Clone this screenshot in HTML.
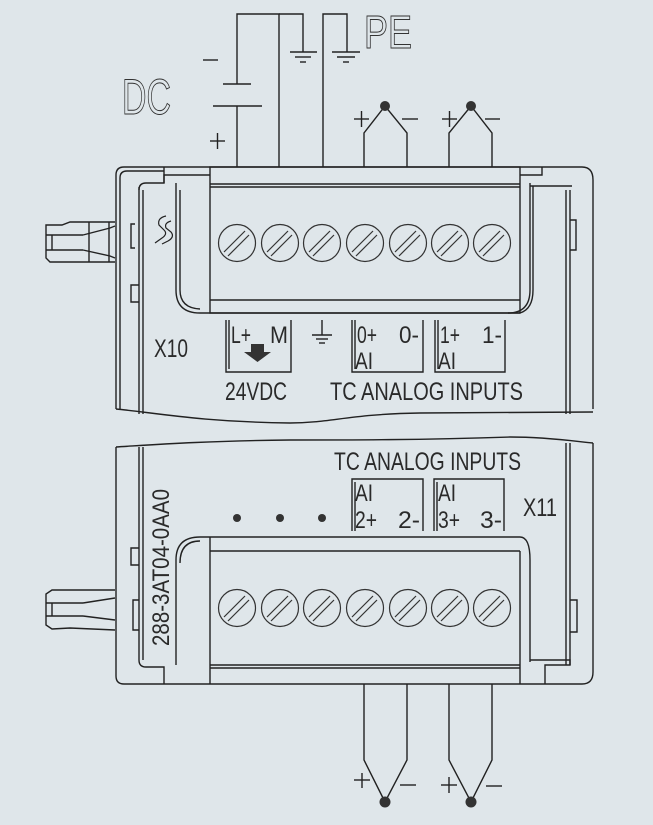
<!DOCTYPE html>
<html><head><meta charset="utf-8"><style>
html,body{margin:0;padding:0;background:#dfe6ea;}
svg{display:block}
text{font-family:"Liberation Sans",sans-serif;fill:#2a2a2a}
</style></head><body>
<svg width="653" height="825" viewBox="0 0 653 825" xmlns="http://www.w3.org/2000/svg">
<rect width="653" height="825" fill="#dfe6ea"/>
<g stroke="#222" stroke-width="1.4" fill="none">
<polyline points="237,84 237,14 279,14 279,167"/>
<polyline points="279,14 303,14 303,52"/>
<polyline points="323,167 323,14 347,14 347,52"/>
<line x1="290" y1="52" x2="317" y2="52"/><line x1="295" y1="57" x2="311" y2="57"/><line x1="300" y1="62" x2="306" y2="62"/>
<line x1="332" y1="52" x2="360" y2="52"/><line x1="337" y1="57" x2="355" y2="57"/><line x1="343" y1="62" x2="349" y2="62"/>
<line x1="223" y1="84" x2="251" y2="84"/><line x1="213" y1="106" x2="262" y2="106"/>
<line x1="237" y1="106" x2="237" y2="167"/>
<line x1="203" y1="60" x2="218" y2="60"/>
<line x1="210" y1="141" x2="225" y2="141"/><line x1="217.5" y1="133" x2="217.5" y2="149"/>
<polyline points="364,167 364,133 385,106 407,133 407,167"/>
<polyline points="449,167 449,133 471,106 492,133 492,167"/>
<line x1="354" y1="119" x2="369" y2="119"/><line x1="361.5" y1="111" x2="361.5" y2="127"/>
<line x1="402" y1="119" x2="418" y2="119"/>
<line x1="442" y1="119" x2="457" y2="119"/><line x1="449.5" y1="111" x2="449.5" y2="127"/>
<line x1="485" y1="119" x2="500" y2="119"/>
<polyline points="364,684 364,760 385,802 407,760 407,684"/>
<polyline points="449,684 449,760 471,802 492,760 492,684"/>
<line x1="354" y1="780" x2="370" y2="780"/><line x1="362" y1="773" x2="362" y2="788"/>
<line x1="400" y1="785" x2="416" y2="785"/>
<line x1="441" y1="785" x2="457" y2="785"/><line x1="449" y1="777" x2="449" y2="793"/>
<line x1="486" y1="786" x2="502" y2="786"/>

<path d="M116,409 L116,175 Q116,167 124,167 L582,167 Q593,167 593,180 L593,409"/>
<path d="M120,409 L120,178 Q120,171 127,171 L164,171"/>
<path d="M116,409 C150,412 200,422 290,423 C330,423 350,414 420,413 C500,412 560,412 593,412"/>
<line x1="139" y1="187" x2="139" y2="414"/><line x1="143" y1="190" x2="143" y2="414"/>
<path d="M139,190 Q139,183 146,183 L164,183 L164,175 L210,175"/>
<path d="M176,183 L176,290 Q176,313 200,313 L520,313"/>
<path d="M180,190 L180,290 Q180,308 200,309"/>
<rect x="210" y="167" width="310" height="146"/>
<line x1="210" y1="184" x2="520" y2="184"/><line x1="210" y1="187" x2="520" y2="187"/>
<line x1="210" y1="300" x2="520" y2="300"/>
<line x1="164" y1="167" x2="164" y2="183"/>
<line x1="566" y1="190" x2="566" y2="414"/><line x1="570" y1="190" x2="570" y2="414"/>
<path d="M530,183 L530,290 Q530,313 508,313"/><path d="M533,186 L533,290 Q533,309 520,313"/>
<path d="M520,175 L542,175 L542,167"/><path d="M530,186 L572,186"/>
<path d="M570,220 L576,220 L576,250 L570,250"/>
<path d="M135,224 L131,224 L131,248 L135,248"/>
<path d="M139,285 L131,285 L131,302 L139,302"/>
<path d="M115,222 L70,222 L62,225 L46,225 L46,258 L50,262 L115,262"/>
<line x1="46" y1="235" x2="83" y2="235"/><line x1="46" y1="250" x2="83" y2="250"/>
<path d="M83,235 L110,228 L115,226 M83,250 L110,256 L115,258"/>
<line x1="52" y1="235" x2="52" y2="250"/><line x1="89" y1="222" x2="89" y2="262"/><line x1="109" y1="222" x2="109" y2="262"/>
<path d="M166,216 q-9,2 -7,9 l5,5 q4,4 -2,8 l-7,5 M171,221 q-7,2 -5,7 l5,4 q4,5 -3,9 l-6,3" stroke-width="1.2"/>

<path d="M226,320 L226,372 L291,372 L291,320"/><line x1="229" y1="320" x2="229" y2="369"/>
<line x1="322" y1="320" x2="322" y2="335"/><line x1="312" y1="335" x2="332" y2="335"/><line x1="316" y1="339" x2="328" y2="339"/><line x1="319" y1="343" x2="325" y2="343"/>
<path d="M352,320 L352,372 L423,372 L423,320"/><line x1="355" y1="320" x2="355" y2="369"/>
<path d="M435,320 L435,372 L505,372 L505,320"/><line x1="438" y1="320" x2="438" y2="369"/>

<path d="M116,447 C150,445 200,441 290,440 C350,440 420,440 510,437 C550,437 580,442 593,443"/>
<path d="M116,447 L116,676 Q116,684 124,684 L582,684 Q593,684 593,672 L593,443"/>
<line x1="139" y1="447" x2="139" y2="660"/><line x1="143" y1="447" x2="143" y2="660"/>
<path d="M139,660 Q139,667 146,667 L164,667 L164,684"/>
<path d="M176,560 Q176,537 200,537 L520,537 Q530,537 530,560 L530,662"/>
<path d="M180,563 Q180,541 200,541"/>
<line x1="176" y1="560" x2="176" y2="665"/>
<line x1="210" y1="537" x2="210" y2="684"/><line x1="520" y1="551" x2="520" y2="684"/>
<line x1="210" y1="551" x2="520" y2="551"/>
<line x1="210" y1="665" x2="520" y2="665"/><line x1="210" y1="668" x2="520" y2="668"/>
<line x1="566" y1="443" x2="566" y2="665"/><line x1="570" y1="443" x2="570" y2="665"/>
<path d="M530,660 L570,660 L570,665 L545,665 L545,684"/>
<path d="M570,600 L577,600 L577,632 L570,632"/>
<path d="M139,548 L131,548 L131,565 L139,565"/>
<path d="M139,600 L133,600 L133,630 L139,630"/>
<path d="M115,590 L52,590 L46,594 L46,625 L52,629 L70,628 L115,630"/>
<line x1="46" y1="603" x2="83" y2="603"/><line x1="46" y1="616" x2="83" y2="616"/>
<path d="M83,603 L115,598 M83,616 L115,620"/>
<line x1="52" y1="603" x2="52" y2="616"/>
<path d="M352,531 L352,479 L423,479 L423,531"/><line x1="355" y1="482" x2="355" y2="531"/>
<path d="M434,531 L434,479 L504,479 L504,531"/><line x1="437" y1="482" x2="437" y2="531"/>
</g>

<g stroke="#333" stroke-width="1.2" fill="none">
<g id="sc">
<circle cx="237" cy="243" r="18.5"/><line x1="224" y1="252" x2="245" y2="231"/><line x1="228" y1="256" x2="249" y2="235"/>
</g>
<use href="#sc" x="43"/><use href="#sc" x="85"/><use href="#sc" x="128"/><use href="#sc" x="171"/><use href="#sc" x="213"/><use href="#sc" x="255"/>
<use href="#sc" y="365"/><use href="#sc" x="43" y="365"/><use href="#sc" x="85" y="365"/><use href="#sc" x="128" y="365"/><use href="#sc" x="171" y="365"/><use href="#sc" x="213" y="365"/><use href="#sc" x="255" y="365"/>
</g>
<g fill="#333">
<circle cx="385" cy="106" r="5"/><circle cx="471" cy="106" r="5"/>
<circle cx="385" cy="802" r="5.5"/><circle cx="471" cy="802" r="5.5"/>
<circle cx="237" cy="518" r="4"/><circle cx="280" cy="518" r="4"/><circle cx="322" cy="518" r="4"/>
<path d="M251,344 L264,344 L264,352 L271,352 L257.5,362 L244,352 L251,352 Z"/>
</g>

<text x="364" y="48" font-size="46" textLength="48" lengthAdjust="spacingAndGlyphs" style="fill:none;stroke:#333;stroke-width:1">PE</text>
<text x="122" y="114" font-size="50" textLength="49" lengthAdjust="spacingAndGlyphs" style="fill:none;stroke:#333;stroke-width:1">DC</text>
<text x="154" y="357" font-size="25" textLength="34" lengthAdjust="spacingAndGlyphs">X10</text>
<text x="231" y="343" font-size="24" textLength="20" lengthAdjust="spacingAndGlyphs">L+</text>
<text x="270" y="343" font-size="24" textLength="18" lengthAdjust="spacingAndGlyphs">M</text>
<text x="225" y="400" font-size="25" textLength="62" lengthAdjust="spacingAndGlyphs">24VDC</text>
<text x="357" y="343" font-size="24" textLength="20" lengthAdjust="spacingAndGlyphs">0+</text><text x="399" y="343" font-size="24" textLength="20" lengthAdjust="spacingAndGlyphs">0-</text>
<text x="355" y="369" font-size="24" textLength="18" lengthAdjust="spacingAndGlyphs">AI</text>
<text x="440" y="343" font-size="24" textLength="20" lengthAdjust="spacingAndGlyphs">1+</text><text x="482" y="343" font-size="24" textLength="20" lengthAdjust="spacingAndGlyphs">1-</text>
<text x="438" y="369" font-size="24" textLength="18" lengthAdjust="spacingAndGlyphs">AI</text>
<text x="330" y="400" font-size="25" textLength="193" lengthAdjust="spacingAndGlyphs">TC ANALOG  INPUTS</text>
<text x="334" y="470" font-size="25" textLength="187" lengthAdjust="spacingAndGlyphs">TC ANALOG INPUTS</text>
<text x="355" y="501" font-size="24" textLength="18" lengthAdjust="spacingAndGlyphs">AI</text>
<text x="355" y="528" font-size="24" textLength="22" lengthAdjust="spacingAndGlyphs">2+</text><text x="398" y="528" font-size="24" textLength="22" lengthAdjust="spacingAndGlyphs">2-</text>
<text x="438" y="501" font-size="24" textLength="18" lengthAdjust="spacingAndGlyphs">AI</text>
<text x="438" y="528" font-size="24" textLength="22" lengthAdjust="spacingAndGlyphs">3+</text><text x="480" y="528" font-size="24" textLength="22" lengthAdjust="spacingAndGlyphs">3-</text>
<text x="523" y="516" font-size="25" textLength="34" lengthAdjust="spacingAndGlyphs">X11</text>
<text transform="translate(169,646) rotate(-90)" font-size="24" textLength="157" lengthAdjust="spacingAndGlyphs">288-3AT04-0AA0</text>
</svg>
</body></html>
